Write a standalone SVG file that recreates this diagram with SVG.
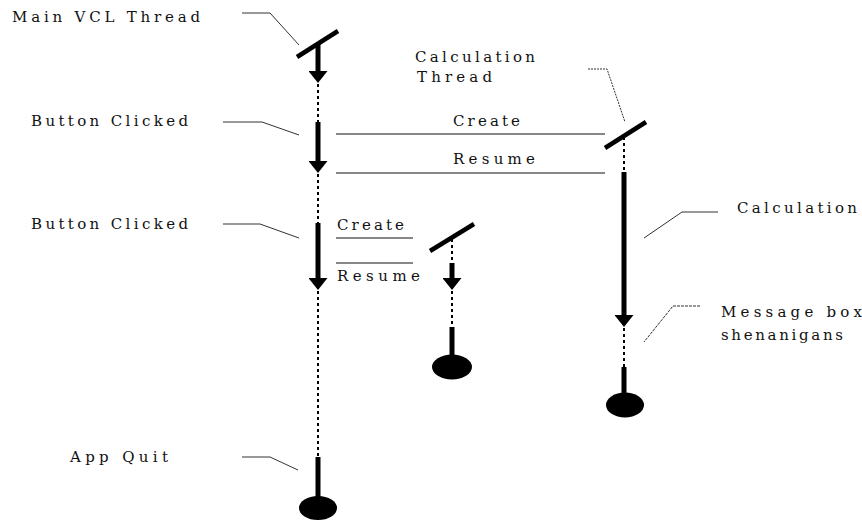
<svg xmlns="http://www.w3.org/2000/svg" width="862" height="525" viewBox="0 0 862 525">
<style>
text{font-family:"DejaVu Serif","Liberation Serif",serif;font-size:15px;fill:#111}
.leader{fill:none;stroke:#333;stroke-width:1}
.msg{stroke:#111;stroke-width:1.2}
.life{stroke:#000;stroke-width:2;stroke-dasharray:3 3}
.bar{stroke:#000;stroke-width:5;fill:none}
.slash{stroke:#000;stroke-width:4.5}
.end{fill:#000}
</style>
<defs>
<marker id="ah" markerUnits="userSpaceOnUse" markerWidth="12" markerHeight="19" viewBox="0 0 12 19" refX="6" refY="9.5" orient="auto">
<path d="M0,0 L12,9.5 L0,19 Z" fill="#000"/>
</marker>
</defs>
<rect width="862" height="525" fill="#fff"/>
<g id="connectors">
<line class="msg" x1="336" y1="134" x2="605" y2="134"/>
<line class="msg" x1="336" y1="173" x2="605" y2="173"/>
<line class="msg" x1="336" y1="238" x2="413" y2="238" stroke="#777"/>
<line class="msg" x1="336" y1="263" x2="413" y2="263"/>
<text x="453" y="126" textLength="67" lengthAdjust="spacing">Create</text>
<text x="453" y="164" textLength="82" lengthAdjust="spacing">Resume</text>
<text x="337" y="230" textLength="67" lengthAdjust="spacing">Create</text>
<text x="337" y="281" textLength="83" lengthAdjust="spacing">Resume</text>
</g>
<g id="main-thread">
<line class="slash" x1="297" y1="57" x2="338" y2="31"/>
<line class="bar" x1="318" y1="44" x2="318" y2="77" marker-end="url(#ah)"/>
<line class="life" x1="318" y1="84" x2="318" y2="122"/>
<line class="bar" x1="318" y1="122" x2="318" y2="167" marker-end="url(#ah)"/>
<line class="life" x1="318" y1="174" x2="318" y2="223"/>
<line class="bar" x1="318" y1="223" x2="318" y2="284" marker-end="url(#ah)"/>
<line class="life" x1="318" y1="291" x2="318" y2="457"/>
<line class="bar" x1="318" y1="457" x2="318" y2="500"/>
<ellipse class="end" cx="318" cy="508" rx="19" ry="12"/>
</g>
<g id="label-main">
<text x="12" y="22" textLength="188" lengthAdjust="spacing">Main VCL Thread</text>
<polyline class="leader" points="242,13 270,13 299,45"/>
</g>
<g id="label-button1">
<text x="31" y="126" textLength="157" lengthAdjust="spacing">Button Clicked</text>
<polyline class="leader" points="223,122 262,122 299,135"/>
</g>
<g id="label-button2">
<text x="31" y="229" textLength="157" lengthAdjust="spacing">Button Clicked</text>
<polyline class="leader" points="223,224 260,224 299,238"/>
</g>
<g id="label-quit">
<text x="70" y="462" textLength="98" lengthAdjust="spacing">App Quit</text>
<polyline class="leader" points="242,457 270,457 298,470"/>
</g>
<g id="calc-thread">
<line class="slash" x1="605" y1="148" x2="646" y2="122"/>
<line class="life" x1="624" y1="137" x2="624" y2="172"/>
<line class="bar" x1="624" y1="172" x2="624" y2="321" marker-end="url(#ah)"/>
<line class="life" x1="624" y1="328" x2="624" y2="367"/>
<line class="bar" x1="624" y1="367" x2="624" y2="398"/>
<ellipse class="end" cx="625" cy="405" rx="19" ry="12.5"/>
</g>
<g id="label-calc-thread">
<text x="415" y="62" textLength="120" lengthAdjust="spacing">Calculation</text>
<text x="417" y="82" textLength="75" lengthAdjust="spacing">Thread</text>
<polyline class="leader" points="588,69 607,69 625,122" stroke-dasharray="2 1"/>
</g>
<g id="label-calculation">
<text x="737" y="213" textLength="120" lengthAdjust="spacing">Calculation</text>
<polyline class="leader" points="718,212 682,212 644,238"/>
</g>
<g id="label-message">
<text x="721" y="317" textLength="141" lengthAdjust="spacing">Message box</text>
<text x="721" y="340" textLength="122" lengthAdjust="spacing">shenanigans</text>
<polyline class="leader" points="700,306 673,306 644,342" stroke-dasharray="3 1"/>
</g>
<g id="thread3">
<line class="slash" x1="430" y1="251" x2="474" y2="224"/>
<line class="life" x1="452" y1="239" x2="452" y2="263"/>
<line class="bar" x1="452" y1="263" x2="452" y2="284" marker-end="url(#ah)"/>
<line class="life" x1="452" y1="291" x2="452" y2="327"/>
<line class="bar" x1="452" y1="327" x2="452" y2="360"/>
<ellipse class="end" cx="452" cy="367" rx="20" ry="12.5"/>
</g>
</svg>
